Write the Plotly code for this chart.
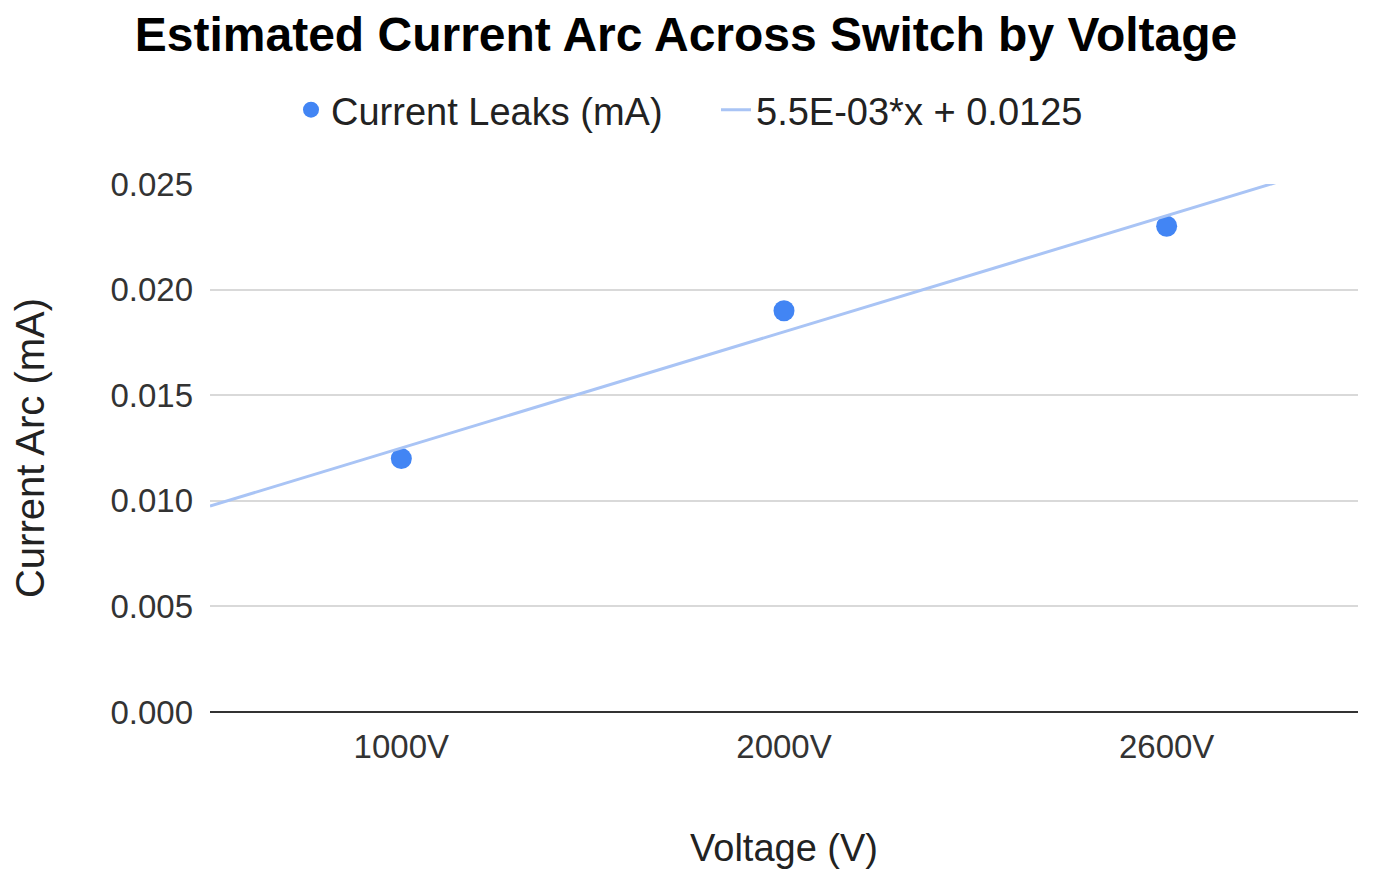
import numpy as np
import plotly.graph_objects as go

categories = ["1000V", "2000V", "2600V"]
positions = [1, 2, 3]
current_leaks = [0.012, 0.019, 0.023]
trend_label = "5.5E-03*x + 0.0125"

# least-squares trendline through the data (as the source chart's trendline)
slope, intercept = np.polyfit(positions, current_leaks, 1)
trend_x = [0.5, 3.5]
trend_y = [slope * x + intercept for x in trend_x]

FONT = "Arial, Liberation Sans, sans-serif"
BLUE = "#4285F4"
TREND = "#A9C4F5"

W, H = 1369, 867  # page body has an 8px margin

fig = go.Figure()
fig.add_trace(go.Scatter(
    x=positions, y=current_leaks, mode="markers",
    name="Current Leaks (mA)",
    marker=dict(color=BLUE, size=21),
))
fig.add_trace(go.Scatter(
    x=trend_x, y=trend_y, mode="lines",
    name=trend_label,
    line=dict(color=TREND, width=3),
))

fig.update_layout(
    width=W, height=H,
    margin=dict(l=200, r=19, t=176, b=163),
    paper_bgcolor="white", plot_bgcolor="white",
    font=dict(family=FONT, color="#222222"),
    title=dict(
        text="<b>Estimated Current Arc Across Switch by Voltage</b>",
        x=678 / W, xref="container", xanchor="center",
        y=1 - 26 / H, yref="container", yanchor="middle",
        font=dict(size=48, color="#000000", family=FONT),
    ),
    legend=dict(
        orientation="h", xref="container", x=708 / W, xanchor="center",
        yref="container", y=1 - 102 / H, yanchor="middle",
        font=dict(size=38, color="#222222"),
        itemsizing="trace",
        entrywidth=380,
    ),
    showlegend=True,
)

fig.update_xaxes(
    range=[0.5, 3.5], tickvals=positions, ticktext=categories,
    showgrid=False, zeroline=False,
    showline=False, ticks="",
    tickfont=dict(size=33, color="#333333"),
    ticklabelstandoff=12,
    title=dict(text="Voltage (V)", font=dict(size=38, color="#222222"), standoff=70),
)
fig.update_yaxes(
    range=[0, 0.025], dtick=0.005, tickformat=".3f",
    showgrid=True, gridcolor="#D9D9D9", gridwidth=2,
    zeroline=True, zerolinecolor="#333333", zerolinewidth=2,
    showline=False, ticks="",
    tickfont=dict(size=33, color="#333333"),
    ticklabelstandoff=16,
    title=dict(text="Current Arc (mA)", font=dict(size=40, color="#222222"), standoff=62),
)

fig.write_html("out.html")
